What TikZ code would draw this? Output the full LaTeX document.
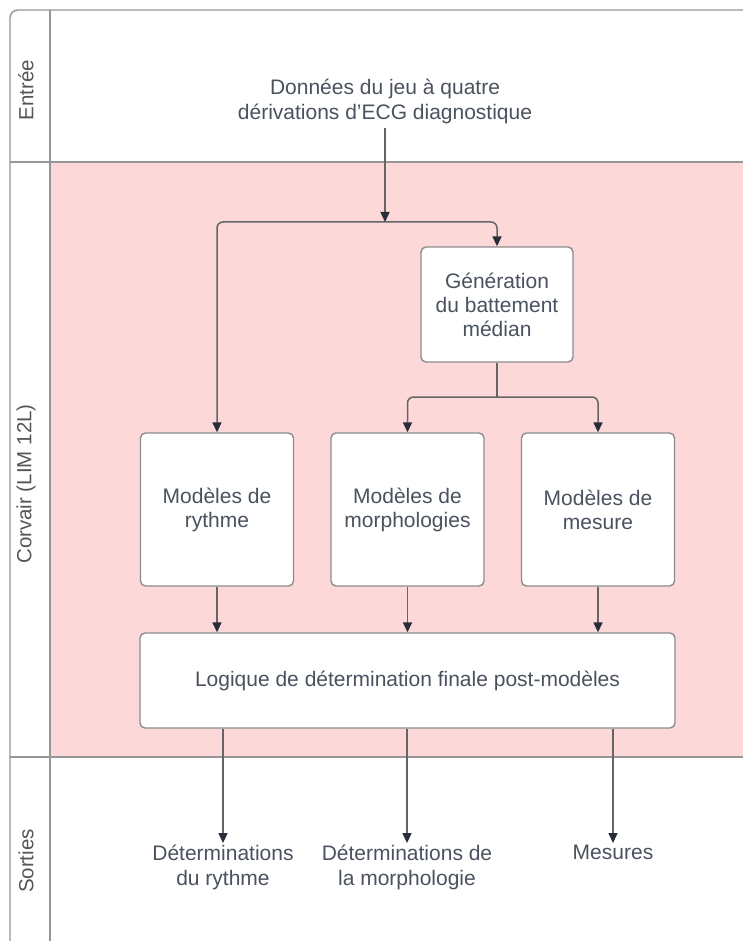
\documentclass[tikz,border=0pt]{standalone}
\usepackage{fontspec}
\setmainfont{Liberation Sans}
\usetikzlibrary{arrows.meta}
\definecolor{lanepink}{RGB}{253,216,216}
\definecolor{frameg}{RGB}{150,150,150}
\definecolor{boxg}{RGB}{140,140,140}
\definecolor{txt}{RGB}{74,82,95}
\definecolor{lanetxt}{RGB}{85,85,85}
\definecolor{lineg}{RGB}{100,100,105}
\definecolor{tipc}{RGB}{40,45,55}
\tikzset{
  box/.style={draw=boxg, fill=white, line width=1.4pt, rounded corners=5pt,
    align=center, text=txt, font=\fontsize{21}{24}\selectfont, inner sep=0pt},
  plain/.style={align=center, text=txt, font=\fontsize{21}{25}\selectfont, inner sep=2pt},
  lanelabel/.style={rotate=90, text=lanetxt, font=\fontsize{20.5}{24}\selectfont},
  frameline/.style={draw=frameg, line width=1.4pt},
  arr/.style={draw=lineg, line width=1.5pt, -{Triangle[length=10pt,width=9pt,color=tipc]}},
  ln/.style={draw=lineg, line width=1.5pt}
}
\begin{document}
\begin{tikzpicture}[x=1pt,y=-1pt]
\useasboundingbox (0,0) rectangle (743,941);
\fill[white] (0,0) rectangle (743,941);
% pink lane
\fill[lanepink] (50,162) rectangle (743,757);
% frame
\draw[frameline, rounded corners=8pt] (10,943) -- (10,10) -- (745,10);
\draw[frameline] (50,10) -- (50,943);
\draw[frameline] (10,162) -- (745,162);
\draw[frameline] (10,757) -- (745,757);
% lane labels
\node[lanelabel] (lin) at (26,90) {Entrée};
\node[lanelabel] (lcor) at (26,484) {Corvair (LIM 12L)};
\node[lanelabel] (lout) at (26,861) {Sorties};
% nodes
\node[plain] (inp) at (385,101) {Données du jeu à quatre\\dérivations d’ECG diagnostique};
\node[box, minimum width=152pt, minimum height=115pt] (gen) at (497,304.5) {Génération\\du battement\\médian};
\node[box, minimum width=153pt, minimum height=153pt] (ryt) at (217,509.5) {Modèles de\\rythme};
\node[box, minimum width=153pt, minimum height=153pt] (mor) at (407.5,509.5) {Modèles de\\morphologies};
\node[box, minimum width=153pt, minimum height=153pt] (mes) at (598,509.5) {Modèles de\\mesure};
\node[box, minimum width=535pt, minimum height=95pt] (log) at (407.5,680.5) {Logique de détermination finale post-modèles};
\node[plain, anchor=north] (o1) at (223,843) {Déterminations\\du rythme};
\node[plain, anchor=north] (o2) at (407,843) {Déterminations de\\la morphologie};
\node[plain, anchor=north] (o3) at (613,843) {Mesures};
% connectors
\coordinate (s1) at (385,222);
\coordinate (s2) at (497,397);
\draw[arr] (inp.south) ++(0,2) -- (s1);
\draw[arr, rounded corners=6pt] (s1) -| (ryt.north);
\draw[arr, rounded corners=6pt] (s1) -| (gen.north);
\draw[ln] (gen.south) -- (s2);
\draw[arr, rounded corners=6pt] (s2) -| (mor.north);
\draw[arr, rounded corners=6pt] (s2) -| (mes.north);
\draw[arr] (ryt.south) -- (ryt.south |- log.north);
\draw[arr] (mor.south) -- (mor.south |- log.north);
\draw[arr] (mes.south) -- (mes.south |- log.north);
\draw[arr] (o1.north |- log.south) -- (o1.north);
\draw[arr] (o2.north |- log.south) -- (o2.north);
\draw[arr] (o3.north |- log.south) -- (o3.north);
\end{tikzpicture}
\end{document}
